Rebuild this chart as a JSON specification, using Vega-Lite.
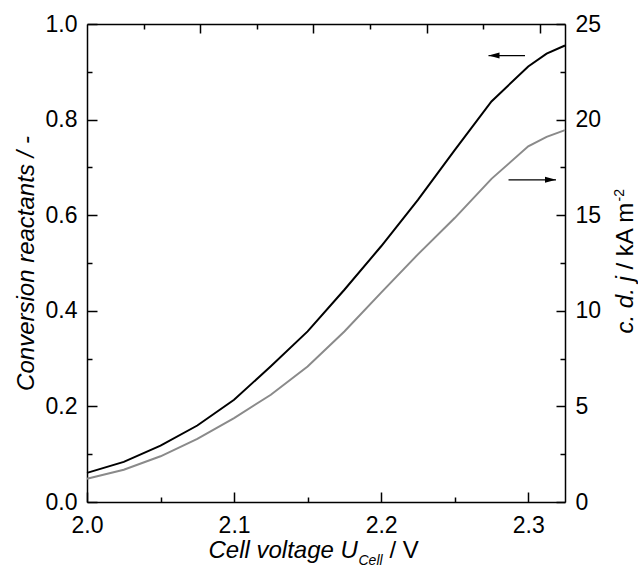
{
  "$schema": "https://vega.github.io/schema/vega-lite/v6.json",
  "width": 478,
  "height": 478,
  "autosize": "none",
  "padding": {"left": 87, "top": 24, "right": 73, "bottom": 75},
  "background": "white",
  "config": {
    "font": "Liberation Sans",
    "view": {"stroke": null},
    "axis": {
      "grid": false,
      "domainColor": "black",
      "domainWidth": 1.5,
      "tickColor": "black",
      "tickWidth": 1.5,
      "labelColor": "black",
      "labelFont": "Liberation Sans",
      "labelFontSize": 23,
      "labelFlush": false,
      "labelOverlap": false,
      "labelBound": false,
      "titleColor": "black",
      "titleFont": "Liberation Sans",
      "titleFontSize": 24,
      "titleFontWeight": "normal"
    }
  },
  "datasets": {
    "curves": [
      {"U": 2.0, "conversion": 0.061, "j": 1.22},
      {"U": 2.025, "conversion": 0.084, "j": 1.69},
      {"U": 2.05, "conversion": 0.118, "j": 2.39},
      {"U": 2.075, "conversion": 0.16, "j": 3.3},
      {"U": 2.1, "conversion": 0.214, "j": 4.39},
      {"U": 2.125, "conversion": 0.284, "j": 5.61},
      {"U": 2.15, "conversion": 0.357, "j": 7.09},
      {"U": 2.175, "conversion": 0.444, "j": 8.92},
      {"U": 2.2, "conversion": 0.535, "j": 10.95},
      {"U": 2.225, "conversion": 0.632, "j": 12.95},
      {"U": 2.25, "conversion": 0.736, "j": 14.85},
      {"U": 2.275, "conversion": 0.838, "j": 16.9},
      {"U": 2.3, "conversion": 0.911, "j": 18.6},
      {"U": 2.3125, "conversion": 0.938, "j": 19.1},
      {"U": 2.325, "conversion": 0.955, "j": 19.45}
    ],
    "arrows": [
      {"series": "conversion", "from": 2.2978, "to": 2.273, "level": 0.934, "dir": "left"},
      {"series": "current density", "from": 2.2866, "to": 2.3189, "level": 0.674, "dir": "right"}
    ]
  },
  "layer": [
    {
      "data": {"name": "curves"},
      "mark": {"type": "line", "color": "black", "strokeWidth": 2},
      "encoding": {
        "x": {
          "field": "U",
          "type": "quantitative",
          "scale": {"domain": [2.0, 2.325], "nice": false, "zero": false},
          "axis": {
            "orient": "bottom",
            "values": [2.0, 2.1, 2.2, 2.3],
            "format": ".1f",
            "tickSize": -10,
            "labelPadding": 22,
            "title": "Cell voltage U",
            "titleFontStyle": "italic",
            "titleAlign": "left",
            "titleBaseline": "alphabetic",
            "titleX": 121,
            "titleY": 55
          }
        },
        "y": {
          "field": "conversion",
          "type": "quantitative",
          "scale": {"domain": [0, 1], "nice": false},
          "axis": {
            "orient": "left",
            "values": [0, 0.2, 0.4, 0.6, 0.8, 1.0],
            "format": ".1f",
            "tickSize": -10,
            "labelPadding": 20,
            "title": "Conversion reactants / -",
            "titleFontStyle": "italic",
            "titleAngle": 270,
            "titleAlign": "center",
            "titleBaseline": "alphabetic",
            "titleX": -54,
            "titleY": 239
          }
        }
      }
    },
    {
      "data": {"name": "curves"},
      "mark": {"type": "line", "color": "#8a8a8a", "strokeWidth": 2},
      "encoding": {
        "x": {
          "field": "U",
          "type": "quantitative",
          "scale": {"domain": [2.0, 2.325], "nice": false, "zero": false},
          "axis": {
            "orient": "top",
            "values": [2.077, 2.154, 2.231, 2.308],
            "labels": false,
            "tickSize": -9,
            "title": null
          }
        },
        "y": {
          "field": "j",
          "type": "quantitative",
          "scale": {"domain": [0, 25], "nice": false},
          "axis": {
            "orient": "right",
            "values": [0, 5, 10, 15, 20, 25],
            "format": "d",
            "tickSize": -9,
            "labelPadding": 19,
            "title": "c. d. j",
            "titleFontStyle": "italic",
            "titleAngle": 270,
            "titleAlign": "left",
            "titleBaseline": "alphabetic",
            "titleX": 67,
            "titleY": 309
          }
        }
      }
    },
    {
      "data": {"name": "arrows"},
      "mark": {"type": "rule", "color": "black", "strokeWidth": 1.2},
      "encoding": {
        "x": {
          "field": "from",
          "type": "quantitative",
          "scale": {"domain": [2.0, 2.325], "nice": false, "zero": false},
          "axis": {
            "orient": "bottom",
            "values": [2.05, 2.15, 2.25],
            "labels": false,
            "tickSize": -5,
            "domain": false,
            "title": "Cell",
            "titleFontStyle": "italic",
            "titleFontSize": 14,
            "titleAlign": "left",
            "titleBaseline": "alphabetic",
            "titleX": 271,
            "titleY": 62
          }
        },
        "x2": {"field": "to"},
        "y": {
          "field": "level",
          "type": "quantitative",
          "scale": {"domain": [0, 1], "nice": false},
          "axis": {
            "orient": "right",
            "values": [0.1, 0.3, 0.5, 0.7, 0.9],
            "labels": false,
            "tickSize": -5,
            "domain": false,
            "title": "/ kA m",
            "titleAngle": 270,
            "titleAlign": "left",
            "titleBaseline": "alphabetic",
            "titleX": 67,
            "titleY": 245
          }
        }
      }
    },
    {
      "data": {"name": "arrows"},
      "mark": {"type": "point", "filled": true, "color": "black", "opacity": 1, "size": 100, "strokeWidth": 0},
      "encoding": {
        "x": {
          "field": "to",
          "type": "quantitative",
          "scale": {"domain": [2.0, 2.325], "nice": false, "zero": false},
          "axis": {
            "orient": "bottom",
            "labels": false,
            "ticks": false,
            "domain": false,
            "title": "/ V",
            "titleAlign": "left",
            "titleBaseline": "alphabetic",
            "titleX": 302,
            "titleY": 55
          }
        },
        "y": {
          "field": "level",
          "type": "quantitative",
          "scale": {"domain": [0, 1], "nice": false},
          "axis": {
            "orient": "right",
            "labels": false,
            "ticks": false,
            "domain": false,
            "title": "-2",
            "titleFontSize": 14,
            "titleAngle": 270,
            "titleAlign": "left",
            "titleBaseline": "alphabetic",
            "titleX": 58,
            "titleY": 177
          }
        },
        "shape": {
          "field": "dir",
          "type": "nominal",
          "scale": {"domain": ["left", "right"], "range": ["M0,0L2.2,-0.6L2.2,0.6Z", "M0,0L-2.2,-0.6L-2.2,0.6Z"]},
          "legend": null
        }
      }
    },
    {
      "data": {"name": "curves"},
      "mark": {"type": "line", "strokeOpacity": 0},
      "encoding": {
        "x": {
          "field": "U",
          "type": "quantitative",
          "scale": {"domain": [2.0, 2.325], "nice": false, "zero": false},
          "axis": {
            "orient": "top",
            "values": [2.0385, 2.1155, 2.1925, 2.2695],
            "labels": false,
            "tickSize": -5,
            "domain": false,
            "title": null
          }
        },
        "y": {
          "field": "conversion",
          "type": "quantitative",
          "scale": {"domain": [0, 1], "nice": false},
          "axis": {
            "orient": "left",
            "values": [0.1, 0.3, 0.5, 0.7, 0.9],
            "labels": false,
            "tickSize": -5,
            "domain": false,
            "title": null
          }
        }
      }
    }
  ],
  "resolve": {"scale": {"y": "independent"}, "axis": {"x": "independent"}}
}
